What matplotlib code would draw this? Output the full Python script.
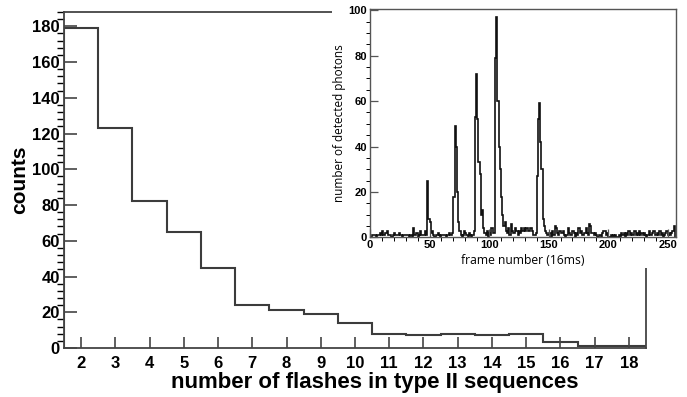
import matplotlib.pyplot as plt
import numpy as np
from matplotlib.patches import Rectangle
from matplotlib.ticker import MultipleLocator

plt.rcParams['font.family'] = ['Liberation Sans', 'DejaVu Sans']

# main histogram: number of flashes per type II sequence
flashes = [2, 3, 4, 5, 6, 7, 8, 9, 10, 11, 12, 13, 14, 15, 16, 17, 18]
counts = [179, 123, 82, 65, 45, 24, 21, 19, 14, 8, 7, 8, 7, 8, 3.5, 1, 1]

# inset: detected photons per frame (16 ms frames)
photons = [
    0, 0, 1, 1, 1, 0, 1, 1, 2, 1, 3, 1, 1, 2, 3, 1,
    1, 1, 0, 1, 2, 1, 1, 1, 2, 1, 1, 0, 1, 1, 1, 1,
    1, 0, 1, 0, 4, 1, 1, 2, 0, 1, 3, 1, 1, 1, 3, 1,
    25, 8, 7, 2, 3, 1, 0, 1, 1, 2, 1, 0, 1, 1, 1, 1,
    0, 1, 2, 1, 1, 2, 18, 49, 40, 20, 7, 3, 1, 0, 1, 3,
    2, 1, 0, 2, 1, 0, 1, 3, 53, 72, 52, 33, 28, 10, 12, 4,
    2, 1, 3, 0, 2, 1, 4, 2, 2, 79, 97, 60, 40, 30, 18, 10,
    5, 7, 3, 2, 4, 1, 6, 3, 2, 2, 4, 3, 1, 3, 2, 4,
    3, 4, 3, 4, 4, 3, 4, 4, 3, 1, 1, 2, 27, 52, 59, 42,
    30, 8, 5, 3, 2, 1, 2, 2, 0, 3, 1, 5, 4, 2, 1, 3,
    2, 2, 3, 1, 0, 1, 4, 2, 1, 1, 3, 2, 0, 2, 1, 4,
    2, 3, 1, 1, 2, 4, 2, 1, 6, 5, 2, 2, 1, 2, 1, 0,
    1, 1, 0, 2, 3, 3, 1, 2, 0, 0, 1, 0, 1, 0, 1, 0,
    0, 1, 0, 2, 1, 2, 0, 2, 1, 3, 1, 2, 1, 1, 3, 1,
    2, 1, 3, 1, 2, 1, 2, 1, 0, 1, 3, 1, 1, 2, 3, 1,
    1, 2, 1, 3, 1, 2, 0, 1, 2, 3, 1, 2, 1, 2, 3, 5,
]

fig = plt.figure(figsize=(6.87, 3.97), dpi=100)

# --- main plot
ax = fig.add_axes([0.0932, 0.1234, 0.8471, 0.8464])
edges = np.append(np.array(flashes) - 0.5, flashes[-1] + 0.5)
ax.stairs(counts, edges, color='#3c3c3c', lw=1.5)
ax.set_xlim(edges[0], edges[-1])
ax.set_ylim(0, 188)
ax.set_xticks(flashes)
ax.yaxis.set_major_locator(MultipleLocator(20))
ax.yaxis.set_minor_locator(MultipleLocator(4))
ax.tick_params(direction='in', labelsize=12, width=1.2, color='#444444')
ax.tick_params(axis='y', which='major', length=9, pad=3)
ax.tick_params(axis='y', which='minor', length=5, width=1.0)
ax.tick_params(axis='x', which='major', length=8, pad=6)
for lab in ax.get_xticklabels() + ax.get_yticklabels():
    lab.set_fontweight('bold')
for s in ax.spines.values():
    s.set_color('#444444')
    s.set_linewidth(1.3)
ax.set_xlabel('number of flashes in type II sequences', fontsize=16,
              fontweight='bold', va='top')
ax.xaxis.set_label_coords(0.534, -0.072)
ax.set_ylabel('counts', fontsize=15, fontweight='bold', labelpad=2)

# white area behind the inset
fig.add_artist(Rectangle((0.4833, 0.3249), 0.5167, 0.6751,
                         transform=fig.transFigure, facecolor='white',
                         edgecolor='none', zorder=1))

# --- inset
ins = fig.add_axes([0.5386, 0.4018, 0.4454, 0.5755], zorder=2)
ins.stairs(photons, np.arange(len(photons) + 1), color='#111111', lw=1.2)
ins.set_xlim(0, 257)
ins.set_ylim(0, 100.5)
ins.xaxis.set_major_locator(MultipleLocator(50))
ins.xaxis.set_minor_locator(MultipleLocator(10))
ins.yaxis.set_major_locator(MultipleLocator(20))
ins.yaxis.set_minor_locator(MultipleLocator(5))
ins.tick_params(direction='in', labelsize=8, width=0.9, color='#555555', pad=2)
ins.tick_params(which='major', length=6)
ins.tick_params(which='minor', length=3, width=0.7)
for lab in ins.get_xticklabels() + ins.get_yticklabels():
    lab.set_fontweight('bold')
for s in ins.spines.values():
    s.set_color('#555555')
    s.set_linewidth(1.0)
ins.set_xlabel('frame number (16ms)', fontsize=8.7, family='Open Sans',
               labelpad=3)
ins.set_ylabel('number of detected photons', fontsize=8.5, family='Open Sans',
               labelpad=2)

fig.savefig('out.png', dpi=100)
